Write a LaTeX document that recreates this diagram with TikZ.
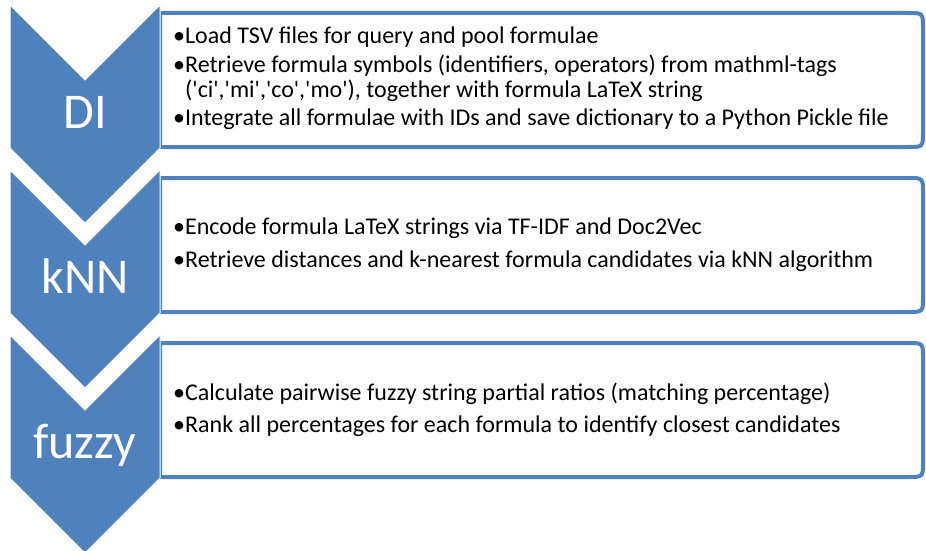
\documentclass[tikz,border=0pt]{standalone}
\usepackage{fontspec}
\setmainfont{Carlito}[Ligatures=TeXOff]
\definecolor{acc}{HTML}{4F81BD}
\begin{document}
\begin{tikzpicture}[x=1pt,y=-1pt,
  chev/.style={fill=acc, draw=white, line width=1pt},
  box/.style={draw=acc, line width=4pt, fill=white},
  lab/.style={text=white, anchor=base, inner sep=0pt, font=\fontsize{50}{60}\selectfont},
  item/.style={anchor=base west, inner sep=0pt, font=\fontsize{24}{29}\selectfont}]
\useasboundingbox (0,0) rectangle (926,551);
\fill[white] (0,0) rectangle (926,551);
% boxes
\foreach \k in {0,1,2}{
  \pgfmathsetmacro{\t}{13+165*\k}
  \pgfmathsetmacro{\b}{147+165*\k}
  \draw[box] (160,\t) -- (908,\t) .. controls (923,\t) .. (923,\t+15)
    -- (923,\b-15) .. controls (923,\b) .. (908,\b) -- (160,\b) -- cycle;
}
% chevrons
\foreach \k in {0,1,2}{
  \pgfmathsetmacro{\t}{5+165*\k}
  \draw[chev] (10,\t) -- (85,\t+75) -- (160,\t) -- (160,\t+143) -- (85,\t+218) -- (10,\t+143) -- cycle;
}
\node[lab] (l1) at (85,128) {DI};
\node[lab] (l2) at (85,293) {kNN};
\node[lab] (l3) at (85,458) {fuzzy};
% texts
\node[item] (a1) at (173,44) {•Load TSV files for query and pool formulae};
\node[item] (a2) at (173,72) {•Retrieve formula symbols (identifiers, operators) from mathml-tags};
\node[item] (a3) at (185,97) {('ci','mi','co','mo'), together with formula LaTeX string};
\node[item] (a4) at (173,125) {•Integrate all formulae with IDs and save dictionary to a Python Pickle file};
\node[item] (b1) at (173,234) {•Encode formula LaTeX strings via TF-IDF and Doc2Vec};
\node[item] (b2) at (173,267) {•Retrieve distances and k-nearest formula candidates via kNN algorithm};
\node[item] (c1) at (173,400) {•Calculate pairwise fuzzy string partial ratios (matching percentage)};
\node[item] (c2) at (173,432) {•Rank all percentages for each formula to identify closest candidates};
\end{tikzpicture}
\end{document}
